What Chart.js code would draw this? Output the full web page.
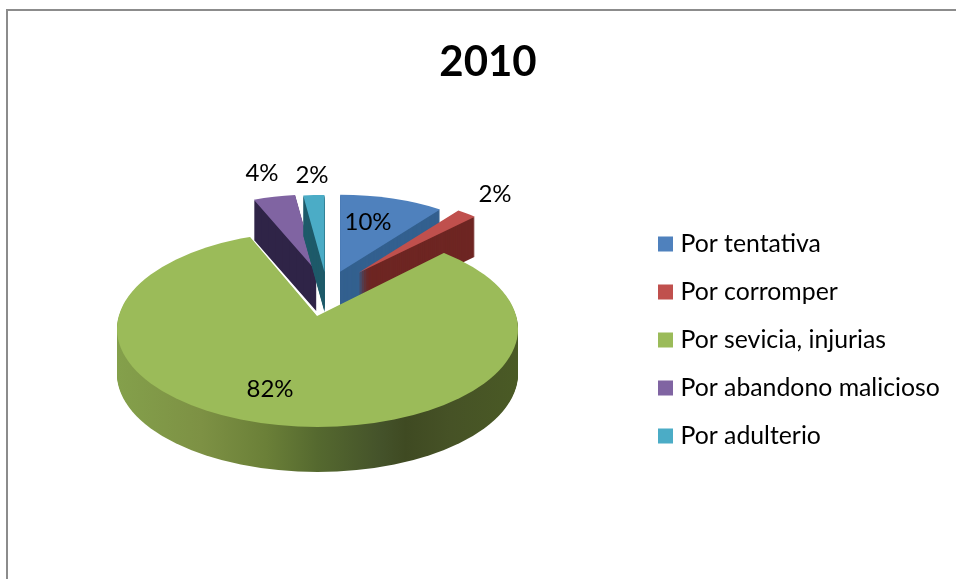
<!DOCTYPE html>
<html>
<head>
<meta charset="utf-8">
<title>2010</title>
<script src="https://cdn.jsdelivr.net/npm/chart.js@4/dist/chart.umd.min.js"></script>
<style>
  html, body { margin: 0; padding: 0; background: #fff; }
  canvas { display: block; }
</style>
</head>
<body>
<canvas id="pie" width="956" height="579"></canvas>
<script>
const categories = ["Por tentativa", "Por corromper", "Por sevicia, injurias", "Por abandono malicioso", "Por adulterio"];
const percentages = [10, 2, 82, 4, 2];

const sliceColors = ["#4f81bd", "#c0504d", "#9bbb59", "#8064a2", "#4bacc6"];
const wallColors = ["#33608f", "#6e2623", null, "#2f2447", "#1f5b6a"];
const explode = [50, 58, 53, 50, 47];
// back slices first so the big one covers their walls
const drawOrder = [3, 4, 0, 1, 2];
const labelSpots = [[368, 222], [495, 194], [270, 389], [262, 173], [312, 175]];

// fake 3D: squash the flat pie. The big slice is oversized and cut by the
// outline ellipse, so only its edges come from the arc (apex sits off centre)
const center = { x: 327, y: 290 };
const back = { sx: 0.85, sy: 0.385, depth: 40 };
const front = { sx: 1.4, sy: 0.654, drop: 0.5, depth: 45 };
const outline = { x: 317.5, y: 329, rx: 200.5, ry: 98 };

function midAngle(arc) {
  return (arc.startAngle + arc.endAngle) / 2;
}

function drawArc(ctx, arc, color) {
  const saved = arc.options;
  arc.options = { ...saved, backgroundColor: color };
  arc.draw(ctx);
  arc.options = saved;
}

function place(ctx, arc, apexX, apexY, sx, sy) {
  ctx.translate(apexX, apexY);
  ctx.scale(sx, sy);
  ctx.translate(-arc.x, -arc.y);
}

function drawBackSlice(ctx, arc, i) {
  const mid = midAngle(arc);
  const apexX = center.x + Math.cos(mid) * explode[i] * back.sx;
  const apexY = center.y + Math.sin(mid) * explode[i] * back.sy;
  for (let d = back.depth; d > 0; d--) {
    ctx.save();
    place(ctx, arc, apexX, apexY + d, back.sx, back.sy);
    drawArc(ctx, arc, wallColors[i]);
    ctx.restore();
  }
  ctx.save();
  place(ctx, arc, apexX, apexY, back.sx, back.sy);
  drawArc(ctx, arc, sliceColors[i]);
  ctx.restore();
}

function drawFrontLayer(ctx, arc, apexX, apexY, d, color) {
  ctx.save();
  ctx.beginPath();
  ctx.ellipse(outline.x, outline.y + d, outline.rx, outline.ry, 0, 0, Math.PI * 2);
  ctx.clip();
  place(ctx, arc, apexX, apexY + d, front.sx, front.sy);
  drawArc(ctx, arc, color);
  ctx.restore();
}

function drawFrontSlice(ctx, arc, i) {
  const mid = midAngle(arc);
  const apexX = center.x + Math.cos(mid) * explode[i];
  const apexY = center.y + Math.sin(mid) * explode[i] * front.drop;

  // gradient is read in the scaled space of the arc
  const wall = ctx.createLinearGradient(
    arc.x + (outline.x - outline.rx - apexX) / front.sx, 0,
    arc.x + (outline.x + outline.rx - apexX) / front.sx, 0
  );
  wall.addColorStop(0, "#84a04b");
  wall.addColorStop(0.21, "#7d9144");
  wall.addColorStop(0.37, "#6b8038");
  wall.addColorStop(0.5, "#55692f");
  wall.addColorStop(0.66, "#44522a");
  wall.addColorStop(0.72, "#3f4a22");
  wall.addColorStop(0.83, "#465226");
  wall.addColorStop(1, "#4a5a25");

  for (let d = front.depth; d > 0; d--) {
    drawFrontLayer(ctx, arc, apexX, apexY, d, wall);
  }
  drawFrontLayer(ctx, arc, apexX, apexY, 0, sliceColors[i]);
}

const pie3d = {
  id: "pie3d",
  beforeDraw(chart) {
    const ctx = chart.ctx;
    ctx.save();
    ctx.strokeStyle = "#8c8c8c";
    ctx.lineWidth = 2;
    ctx.beginPath();
    ctx.moveTo(7, 579);
    ctx.lineTo(7, 10);
    ctx.lineTo(956, 10);
    ctx.stroke();
    ctx.restore();
  },
  afterLayout(chart) {
    // legend sits further right than the layout boxes allow
    const pad = chart.legend.options.labels.padding;
    chart.legend.left = 663 - pad;
    chart.legend.top = 231.5 - pad;
  },
  beforeDatasetDraw(chart, args) {
    const ctx = chart.ctx;
    const arcs = args.meta.data;
    drawOrder.forEach(i => {
      if (i === 2) drawFrontSlice(ctx, arcs[i], i);
      else drawBackSlice(ctx, arcs[i], i);
    });
    return false;
  },
  afterDatasetsDraw(chart) {
    const ctx = chart.ctx;
    ctx.save();
    ctx.font = "24px Lato";
    ctx.fillStyle = "#000";
    ctx.textAlign = "center";
    ctx.textBaseline = "middle";
    percentages.forEach((p, i) => {
      ctx.fillText(p + "%", labelSpots[i][0], labelSpots[i][1]);
    });
    ctx.restore();
  }
};

new Chart(document.getElementById("pie"), {
  type: "pie",
  data: {
    labels: categories,
    datasets: [{ data: percentages, backgroundColor: sliceColors, borderWidth: 0 }]
  },
  options: {
    responsive: false,
    animation: false,
    radius: 200,
    layout: { padding: { left: 20 } },
    plugins: {
      title: {
        display: true,
        text: "2010",
        color: "#000",
        font: { family: "Lato", size: 42, weight: "bold" },
        padding: { top: 37, bottom: 10 }
      },
      legend: {
        position: "right",
        align: "start",
        labels: {
          color: "#000",
          font: { family: "Lato", size: 24.8 },
          boxWidth: 5,
          boxHeight: 5,
          padding: 23.2,
          // thick outline gives a 15px swatch with the text closer to it
          generateLabels: c => Chart.overrides.doughnut.plugins.legend.labels.generateLabels(c)
            .map(item => ({ ...item, lineWidth: 10, strokeStyle: item.fillStyle }))
        }
      },
      tooltip: { enabled: false }
    }
  },
  plugins: [pie3d]
});
</script>
</body>
</html>
